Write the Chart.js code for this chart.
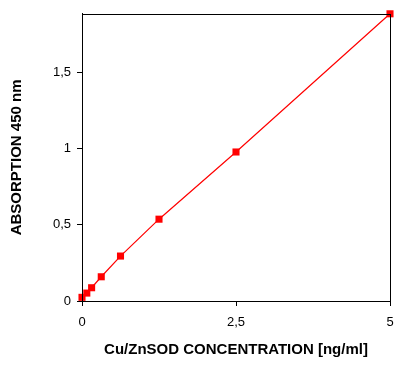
<!DOCTYPE html>
<html>
<head>
<meta charset="utf-8">
<script src="https://cdn.jsdelivr.net/npm/chart.js@4/dist/chart.umd.min.js"></script>
<style>
html,body{margin:0;padding:0;background:#fff;}
#wrap{width:406px;height:371px;}
</style>
</head>
<body>
<div id="wrap"><canvas id="c" width="406" height="371"></canvas></div>
<script>
const concentrations = [0, 0.078, 0.156, 0.3125, 0.625, 1.25, 2.5, 5];
const absorption = [0.024, 0.052, 0.087, 0.159, 0.295, 0.537, 0.978, 1.885];
const xTickValues = [0, 2.5, 5];
const yTickValues = [0, 0.5, 1, 1.5];
const xTitle = 'Cu/ZnSOD CONCENTRATION [ng/ml]';
const yTitle = 'ABSORPTION 450 nm';

const fmt = v => String(v).replace('.', ',');

const frame = {
  id: 'frame',
  afterDatasetsDraw(chart) {
    const a = chart.chartArea, ctx = chart.ctx;
    ctx.save();
    ctx.strokeStyle = '#000';
    ctx.lineWidth = 1;
    ctx.strokeRect(Math.round(a.left) + 0.5, Math.round(a.top) + 0.5, Math.round(a.right - a.left), Math.round(a.bottom - a.top));
    ctx.restore();
  }
};

const font = { family: '"Liberation Sans", Arial, sans-serif', size: 13 };
const titleFont = { family: '"Liberation Sans", Arial, sans-serif', size: 15, weight: 'bold' };

new Chart(document.getElementById('c'), {
  type: 'scatter',
  data: {
    datasets: [{
      data: concentrations.map((x, i) => ({ x: x, y: absorption[i] })),
      showLine: true,
      borderColor: '#ff0000',
      borderWidth: 1.2,
      backgroundColor: '#ff0000',
      pointStyle: 'rect',
      pointRadius: 5,
      pointBorderWidth: 0,
      clip: false
    }]
  },
  options: {
    responsive: false,
    animation: false,
    devicePixelRatio: 1,
    layout: { padding: { left: 0, top: 12, right: 16, bottom: 0 } },
    plugins: { legend: { display: false }, tooltip: { enabled: false } },
    scales: {
      x: {
        type: 'linear',
        min: 0, max: 5,
        afterFit(s) { s.height = 70; },
        afterBuildTicks(s) { s.ticks = xTickValues.map(v => ({ value: v })); },
        ticks: { color: '#000', font: font, padding: 9, maxRotation: 0, callback: fmt },
        grid: { drawOnChartArea: false, color: '#000', tickLength: 5, tickColor: '#000' },
        border: { color: '#000' },
        title: { display: true, text: xTitle, color: '#000', font: titleFont, padding: { top: 12, bottom: 12 } }
      },
      y: {
        type: 'linear',
        min: 0, max: 1.885,
        afterFit(s) { s.width = 82; },
        afterBuildTicks(s) { s.ticks = yTickValues.map(v => ({ value: v })); },
        ticks: { color: '#000', font: font, padding: 6, callback: fmt },
        grid: { drawOnChartArea: false, color: '#000', tickLength: 5, tickColor: '#000' },
        border: { color: '#000' },
        title: { display: true, text: yTitle, color: '#000', font: titleFont, padding: { top: 8, bottom: 8 } }
      }
    }
  },
  plugins: [frame]
});
</script>
</body>
</html>
